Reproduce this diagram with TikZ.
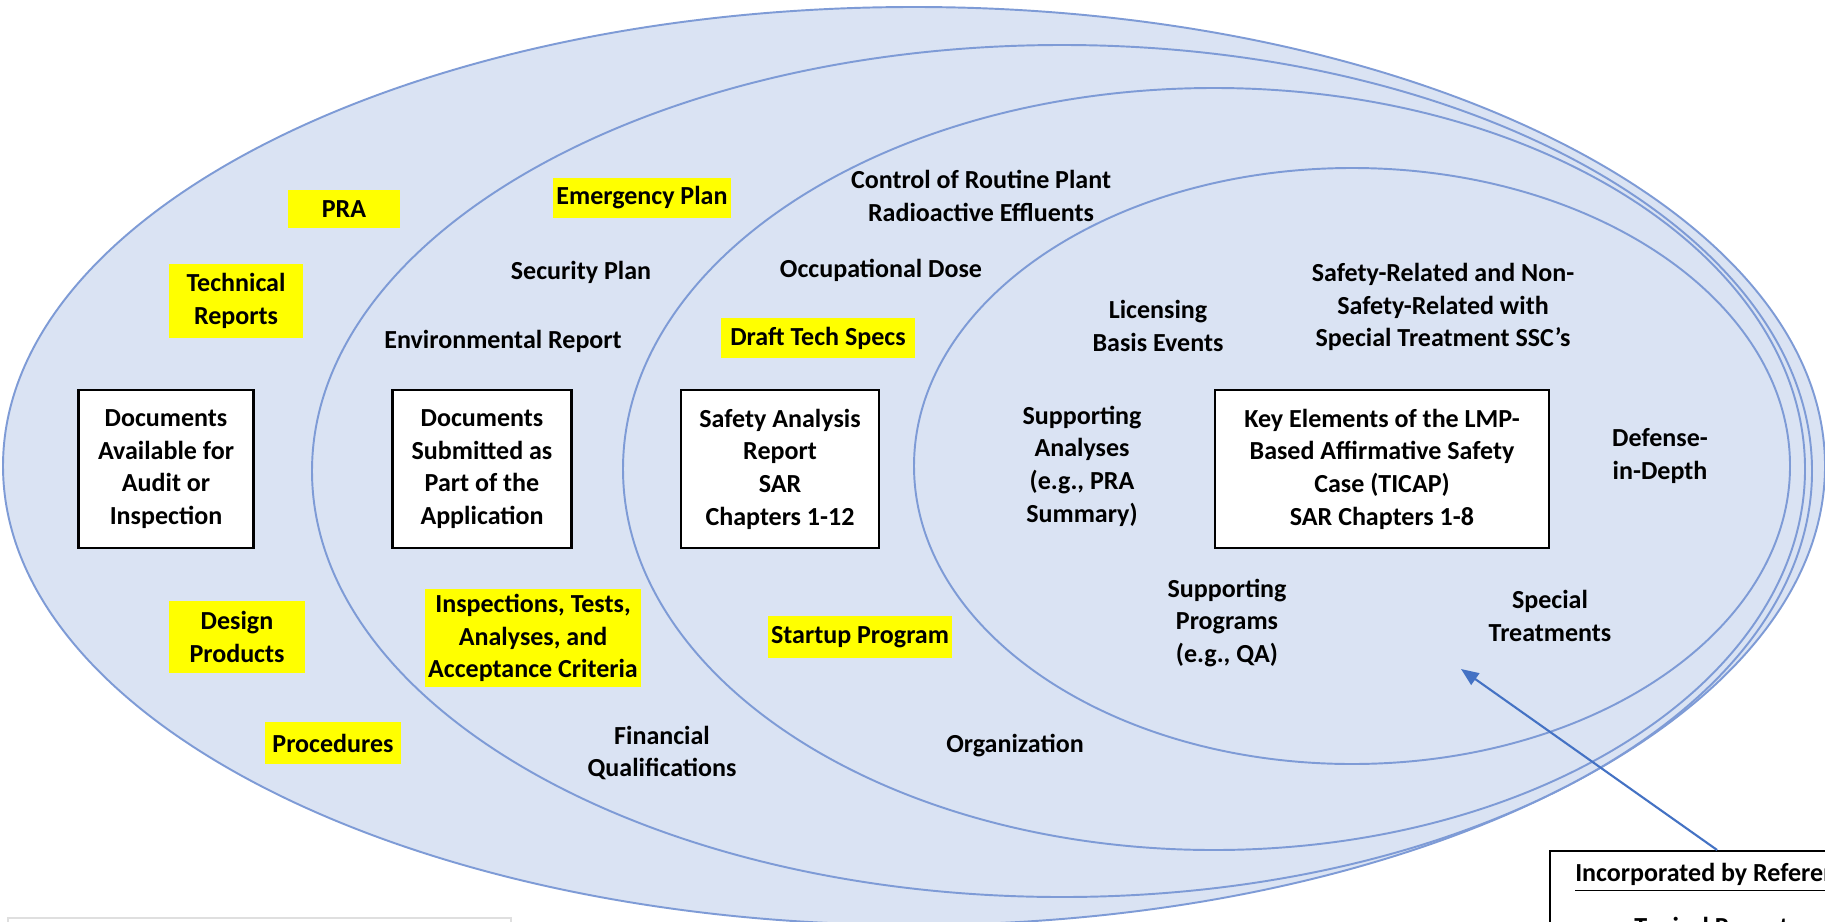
\documentclass[tikz,border=0pt]{standalone}
\usepackage{fontspec}
\setmainfont{Carlito}
\usetikzlibrary{arrows.meta}
\definecolor{ringline}{RGB}{126,155,214}
\definecolor{ringfill}{RGB}{218,227,243}
\definecolor{hilite}{RGB}{255,255,0}
\definecolor{refblue}{RGB}{68,114,196}

\begin{document}
\begin{tikzpicture}[x=0.01cm,y=-0.01cm,
  ring/.style={draw=ringline,fill=ringfill,line width=0.55pt},
  txt/.style={font=\bfseries\fontsize{7.4}{9.3}\selectfont,align=center,inner sep=1pt},
  docbox/.style={txt,draw=black,fill=white,line width=0.7pt,minimum height=1.58cm},
  hl/.style={txt,fill=hilite},
  refarrow/.style={-{Triangle[length=5pt,width=4pt]},draw=refblue,line width=0.6pt}]
\useasboundingbox (0,0) rectangle (1825,921);
\clip (0,0) rectangle (1825,921);
\fill[white] (0,0) rectangle (1825,921);
\draw[ring] (914,466) ellipse [x radius=911,y radius=459];
\draw[ring] (1062,471) ellipse [x radius=750,y radius=426];
\draw[ring] (1214,469) ellipse [x radius=591,y radius=381];
\draw[ring] (1352,466) ellipse [x radius=438,y radius=298];

\node[docbox,minimum width=1.75cm] (audit) at (166,469) {Documents\\Available for\\Audit or\\Inspection};
\node[docbox,minimum width=1.79cm] (submitted) at (482,469) {Documents\\Submitted as\\Part of the\\Application};
\node[docbox,minimum width=1.98cm] (sar) at (780,469) {Safety Analysis\\Report\\SAR\\Chapters 1-12};
\node[docbox,minimum width=3.34cm] (ticap) at (1382,469) {Key Elements of the LMP-\\Based Affirmative Safety\\Case (TICAP)\\SAR Chapters 1-8};

\node[hl,minimum width=1.11cm,minimum height=0.38cm] (pra) at (344,209) {PRA};
\node[hl,minimum width=1.34cm,minimum height=0.73cm] (techrep) at (236,301) {Technical\\Reports};
\node[hl,minimum width=1.78cm,minimum height=0.40cm] (emerg) at (642,198) {Emergency Plan};
\node[hl,minimum width=1.93cm,minimum height=0.40cm] (techspecs) at (818,338) {Draft Tech Specs};
\node[hl,minimum width=1.35cm,minimum height=0.72cm] (design) at (237,637) {Design\\Products};
\node[hl,minimum width=2.11cm,minimum height=0.98cm] (itaac) at (533,638) {Inspections, Tests,\\Analyses, and\\Acceptance Criteria};
\node[hl,minimum width=1.83cm,minimum height=0.41cm] (startup) at (860,637) {Startup Program};
\node[hl,minimum width=1.35cm,minimum height=0.42cm] (proc) at (333,743) {Procedures};

\node[txt] (security) at (581,272) {Security Plan};
\node[txt] (envrep) at (503,341) {Environmental Report};
\node[txt] (effluents) at (981,196) {Control of Routine Plant\\Radioactive Effluents};
\node[txt] (occdose) at (881,270) {Occupational Dose};
\node[txt] (lbe) at (1158,326) {Licensing\\Basis Events};
\node[txt] (ssc) at (1443,307) {Safety-Related and Non-\\Safety-Related with\\Special Treatment SSC’s};
\node[txt] (suppanal) at (1082,466) {Supporting\\Analyses\\(e.g., PRA\\Summary)};
\node[txt] (did) at (1660,456) {Defense-\\in-Depth};
\node[txt] (suppprog) at (1227,623) {Supporting\\Programs\\(e.g., QA)};
\node[txt] (special) at (1550,616) {Special\\Treatments};
\node[txt] (finqual) at (662,753) {Financial\\Qualifications};
\node[txt] (org) at (1015,746) {Organization};

\draw[gray!25,fill=white] (8,918) rectangle (511,960);
\node[txt,draw=black,fill=white,line width=0.7pt,anchor=north west,align=left,inner xsep=0.25cm,inner ysep=0.12cm] (incref) at (1549,850) {\underline{Incorporated by Reference}\\[6pt]\hspace{16.8pt}Typical Reports};
\coordinate (tip) at (1461,669);
\draw[refarrow] ([xshift=1.68cm]incref.north west) -- (tip);
\end{tikzpicture}
\end{document}
